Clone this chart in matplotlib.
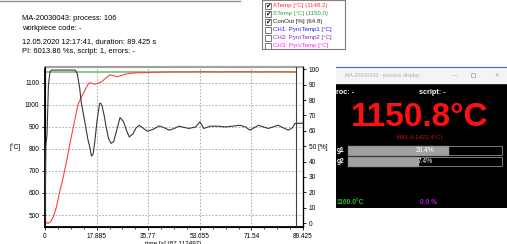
import numpy as np
import matplotlib
matplotlib.use("Agg")
import matplotlib.pyplot as plt
from matplotlib.patches import Rectangle
from matplotlib.lines import Line2D

plt.rcParams['font.family'] = ['Liberation Sans', 'DejaVu Sans']

# --- data ---
atemp_t = [0, 0.5, 1.1, 2.0, 3.0, 4.0, 5.0, 6.3, 7.5, 8.6, 10.0, 11.4, 12.6, 13.8,
           14.8, 15.5, 16.3, 17.4, 18.5, 19.7, 21.0, 22.4, 23.5, 25.0, 26.5, 28.0,
           30.0, 31.5, 35.0, 40.0, 45, 50, 55, 60, 65, 70, 75, 80, 85, 87.1]
atemp = [477, 465, 462, 470, 495, 538, 600, 670, 745, 821, 910, 1000, 1035, 1065,
         1090, 1100, 1097, 1093, 1098, 1105, 1120, 1135, 1133, 1127, 1133, 1139,
         1143, 1145, 1146, 1148, 1149, 1149, 1150, 1149, 1150, 1150, 1149, 1150, 1149, 1148.2]

stemp_t = [0, 87.1]
stemp = [1150.0, 1150.0]

conout_t = [0, 0.3, 0.7, 1.2, 1.7, 2.2, 10.5, 11.2, 12.0, 12.6, 13.4, 14.1, 14.8, 15.5,
            16.1, 16.7, 17.2, 18.0, 18.9, 19.3, 19.8, 20.5, 21.2, 22.0, 22.9, 23.8,
            24.8, 26.0, 27.2, 28.3, 29.2, 30.5, 31.6, 32.7, 33.8, 35.5, 37.5, 39.6,
            41.3, 43.0, 44.8, 46.4, 48.2, 49.9, 52.2, 53.7, 55.0, 57.3, 60.0, 62.5,
            65.0, 67.6, 69.5, 71.0, 72.5, 74.0, 77.4, 80.8, 82.5, 84.3, 85.8, 86.6, 89.425]
conout = [0, 50, 58, 90, 98, 99.5, 99.5, 97, 88, 78, 70, 62.5, 55, 49.5,
          43.5, 45, 52, 66, 77.7, 78, 76, 70, 62.5, 55, 51.8, 53,
          60, 68.6, 66, 60, 56, 58, 62, 63.6, 62, 59.7, 61, 63.2,
          62, 60.4, 61.5, 63, 62.2, 61.5, 62.5, 65.8, 61.5, 63, 63, 62.5,
          63, 63.6, 62.5, 60.4, 62, 63.6, 61.5, 63.6, 62, 60.4, 62, 64.7, 65]

cursor_t = 87.112497
x_ticks = [0, 17.885, 35.77, 53.655, 71.54, 89.425]
x_labels = ['0', '17.885', '35.77', '53.655', '71.54', '89.425']
y_ticks = [500, 600, 700, 800, 900, 1000, 1100]
y2_ticks = list(range(0, 101, 10))

header = ["MA-20030043: process: 106", "workpiece code: -",
          "12.05.2020 12:17:41, duration: 89.425 s", "PI: 6013.86 %s, script: 1, errors: -"]
legend_items = [("ATemp [°C] (1148.2)", '#ff3030', True),
                ("STemp [°C] (1150.0)", '#30a030', True),
                ("ConOut [%] (64.8)", '#202020', True),
                ("CH1: PyroTemp1 [°C]", '#2020e0', False),
                ("CH2: PyroTemp2 [°C]", '#9020b0', False),
                ("CH3: PyroTemp [°C]", '#ff20ff', False)]

W, H = 507, 244
fig = plt.figure(figsize=(W / 100, H / 100), dpi=100)


def box(x0, y0, x1, y1):
    return [x0 / W, 1 - y1 / H, (x1 - x0) / W, (y1 - y0) / H]


# header text
fig.add_artist(Line2D([0, 240 / W], [1 - 1 / H, 1 - 1 / H], color='#909090', lw=1))
for s, y in zip(header, [18, 28, 42, 51]):
    fig.text(22 / W, 1 - y / H, s, fontsize=5.4, va='center', ha='left')

# main chart
ax = fig.add_axes(box(45, 67, 303, 227))
ax.plot(stemp_t, stemp, color='#80c880', lw=1.3, zorder=2)
ax.plot(atemp_t, atemp, color='#ff4040', lw=0.8, zorder=4)
ax.set_xlim(0, 89.425)
ax.set_ylim(445.6, 1171.2)
ax.set_xticks(x_ticks)
ax.set_xticklabels(x_labels)
ax.set_xticks(np.arange(0, 89.43, 17.885 / 4), minor=True)
ax.set_yticks(y_ticks)
ax.grid(True, color='#a0a0a0', linestyle=(0, (2, 2)), lw=0.6)
ax.tick_params(labelsize=4.7, length=2.5, width=0.6, pad=1.5)
ax.tick_params(which='minor', length=1.5, width=0.5)
ax.axvline(cursor_t, color='#404040', lw=0.8, zorder=5)
for sp in ['left', 'bottom']:
    ax.spines[sp].set_linewidth(1.3)
ax.spines['top'].set_color('#a0a0a0')
ax.spines['top'].set_linewidth(1.5)

ax2 = ax.twinx()
ax2.plot(conout_t, conout, color='#383838', lw=0.8, zorder=3)
ax2.set_ylim(-2.6, 101.5)
ax2.set_yticks(y2_ticks)
ax2.set_yticklabels([('50 [%]' if v == 50 else str(v)) for v in y2_ticks])
ax2.tick_params(labelsize=4.7, length=2.5, width=0.6, pad=1.5)
ax2.spines['right'].set_linewidth(0.9)
ax2.spines['top'].set_visible(False)

fig.text(15 / W, 1 - 147 / H, '[°C]', fontsize=4.8, ha='center', va='center')
fig.text(145 / W, 1 - 243 / H, 'time [s] (87.112497)', fontsize=4.6, ha='left', va='center')

# legend panel
lg = fig.add_axes(box(262, 0, 345, 49))
lg.set_xlim(262, 345)
lg.set_ylim(49, 0)
lg.set_xticks([])
lg.set_yticks([])
for sp in lg.spines.values():
    sp.set_color('#808080')
    sp.set_linewidth(0.8)
for i, (s, c, chk) in enumerate(legend_items):
    y = 6 + i * 7.9
    lg.add_patch(Rectangle((265, y - 3), 6, 6, fill=False, ec='#404040', lw=0.5))
    if chk:
        lg.text(268, y, '✔', fontsize=4.8, ha='center', va='center', family='DejaVu Sans')
    lg.text(273, y, s, color=c, fontsize=4.4, va='center', ha='left')

# process display window (right)
pd = fig.add_axes(box(336, 66, 507, 208))
pd.set_xlim(336, 507)
pd.set_ylim(208, 66)
pd.axis('off')
pd.add_patch(Rectangle((336, 83), 171, 125, color='black'))
pd.add_patch(Rectangle((336, 67), 171, 16, color='#f4f4f4'))
pd.plot([336, 507], [67, 67], color='#3070d0', lw=0.8)
pd.text(345, 75.5, 'MA-20030043 - process display', color='#b0b0b0', fontsize=3.8, va='center')
pd.text(455, 75.5, '—', color='#a0a0a0', fontsize=4, va='center', ha='center')
pd.add_patch(Rectangle((471, 73), 4, 4, fill=False, ec='#a0a0a0', lw=0.5))
pd.text(497, 75.5, '✕', color='#a0a0a0', fontsize=4, va='center', ha='center', family='DejaVu Sans')
pd.text(336, 92, 'roc: -', color='white', fontsize=5.2, fontweight='bold', va='center')
pd.text(419, 92, 'script: -', color='white', fontsize=5.2, fontweight='bold', va='center')
pd.text(420, 117, '1150.8°C', color='#ff1010', fontsize=24, fontweight='bold', va='center', ha='center')
pd.text(420, 138, '(491.4-1422.4°C)', color='#d01010', fontsize=4.3, va='center', ha='center')
for y0, fill, lab, txt in [(146, 448, 'g1', '20.4%'), (157, 418, 'g2', '7.4%')]:
    pd.add_patch(Rectangle((348, y0), fill - 348, 9, color='#a0a0a0'))
    pd.add_patch(Rectangle((348, y0), 154, 9, fill=False, ec='#909090', lw=0.6))
    pd.text(337, y0 + 4.5, lab, color='white', fontsize=4.8, fontweight='bold', va='center')
    pd.text(425, y0 + 4.5, txt, color='white', fontsize=4.8, va='center', ha='center')
pd.text(337, 203, '1160.0°C', color='#20c020', fontsize=4.8, fontweight='bold', va='center')
pd.text(420, 203, '0.0 %', color='#b020d0', fontsize=4.8, fontweight='bold', va='center')

fig.savefig('out.png', dpi=100)
